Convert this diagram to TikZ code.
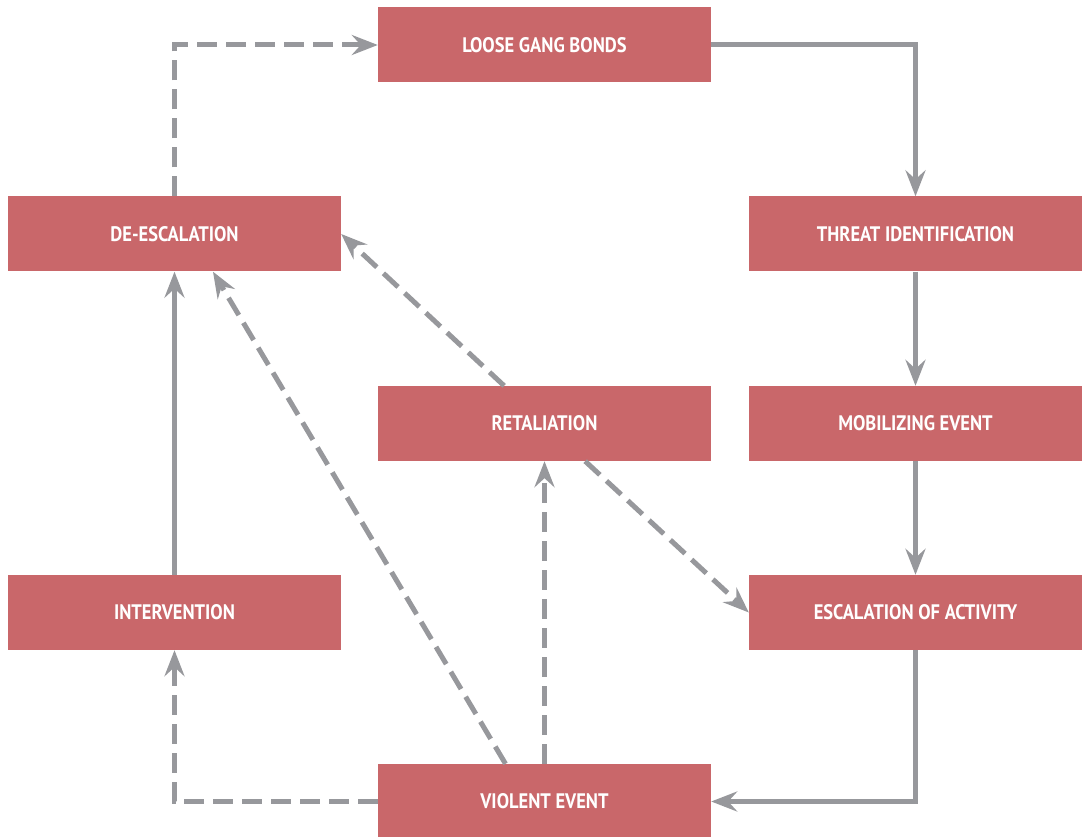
\documentclass[tikz,border=0pt]{standalone}
\usepackage{fontspec}
\newfontfamily\boxfont[FakeStretch=0.88]{PT Sans}
\usetikzlibrary{arrows.meta,calc}
\definecolor{boxred}{HTML}{C9676A}
\definecolor{linegray}{HTML}{97989C}
\begin{document}
\begin{tikzpicture}[x=1pt,y=-1pt,
  stagebox/.style={fill=boxred,draw=none,minimum width=333pt,minimum height=75pt,inner sep=0pt,
    text=white,font=\boxfont\bfseries\fontsize{21}{25}\selectfont},
  link/.style={draw=linegray,line width=5pt,-{Stealth[length=26pt,width=20pt,inset=9pt]}},
  dlink/.style={link,dash pattern=on 20pt off 9pt}]
\useasboundingbox (0,0) rectangle (1082,837);
\node[stagebox] (loose) at (544.5,45) {LOOSE GANG BONDS};
\node[stagebox] (deesc) at (174.5,234) {DE-ESCALATION};
\node[stagebox] (threat) at (915.5,234) {THREAT IDENTIFICATION};
\node[stagebox] (ret) at (544.5,423.5) {RETALIATION};
\node[stagebox] (mob) at (915.5,423.5) {MOBILIZING EVENT};
\node[stagebox] (inter) at (174.5,612.5) {INTERVENTION};
\node[stagebox] (esc) at (915.5,612.5) {ESCALATION OF ACTIVITY};
\node[stagebox] (vio) at (544.5,801.5) {VIOLENT EVENT};
% solid chain
\draw[link] (loose.east) -| (threat.north);
\draw[link] (threat) -- (mob);
\draw[link] (mob) -- (esc);
\draw[link] (esc.south) |- (vio.east);
\draw[link] (inter) -- (deesc);
% dashed
\draw[dlink] (deesc.north) |- (loose.west);
\draw[dlink] (vio.west) -| (inter.south);
\draw[dlink] (vio) -- (ret);
\draw[dlink] ($(vio.north)+(-39,0)$) -- ($(deesc.south)+(38.5,0)$);
\draw[dlink] (ret) -- (deesc.east);
\draw[dlink] (ret) -- (esc.west);
\end{tikzpicture}
\end{document}
